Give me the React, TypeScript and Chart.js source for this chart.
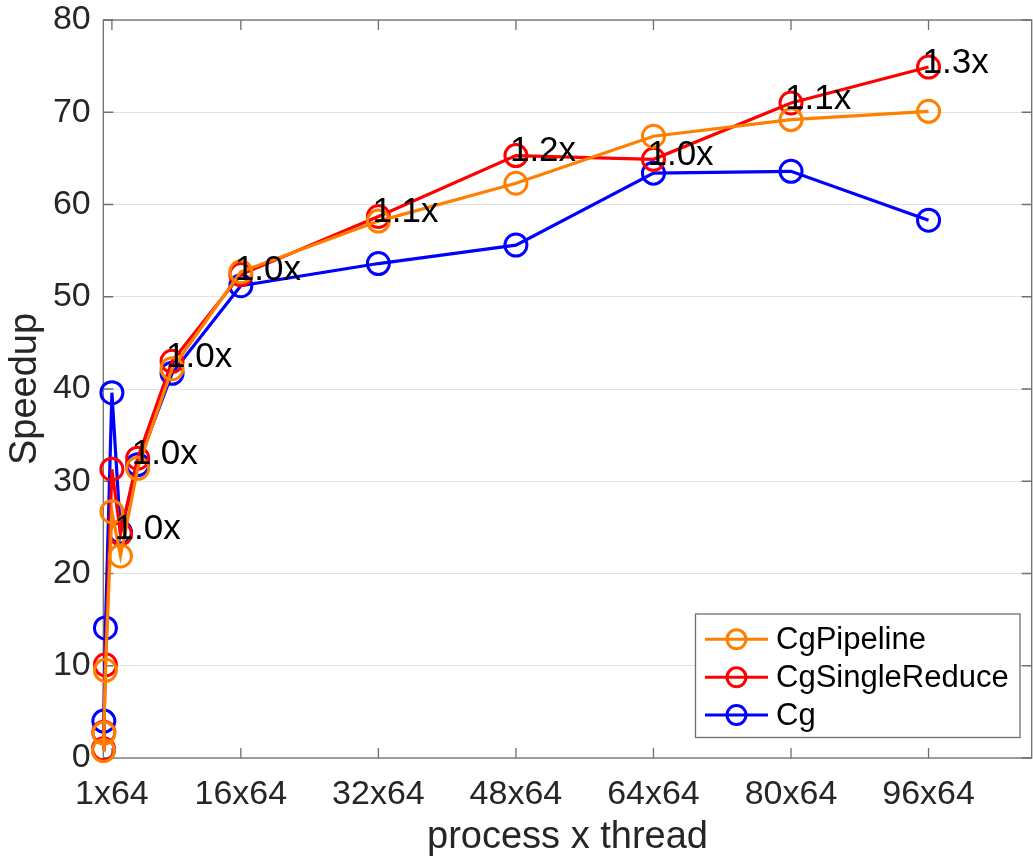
import React, { useEffect, useRef } from 'react';
import { Chart, registerables } from 'chart.js';

Chart.register(...registerables);

// ---------- data ----------
const xValues = [1 / 64, 4 / 64, 16 / 64, 1, 2, 4, 8, 16, 32, 48, 64, 80, 96];
const cgPipeline = [0.8, 2.7, 9.5, 26.7, 21.9, 31.4, 42.2, 52.7, 58.2, 62.3, 67.4, 69.2, 70.1];
const cgSingleReduce = [1.0, 2.8, 10.1, 31.3, 24.3, 32.5, 43.0, 52.4, 58.7, 65.3, 64.9, 71.0, 74.9];
const cg = [0.9, 4.0, 14.1, 39.6, 24.5, 31.8, 41.7, 51.2, 53.6, 55.6, 63.4, 63.6, 58.3];
const ratioLabels = ['', '', '', '', '1.0x', '1.0x', '1.0x', '1.0x', '1.1x', '1.2x', '1.0x', '1.1x', '1.3x'];
const seriesNames = ['CgPipeline', 'CgSingleReduce', 'Cg'];
const seriesColors = ['#FF8000', '#FF0000', '#0000FF'];
const xTickValues = [1, 16, 32, 48, 64, 80, 96];
const xTickLabels = ['1x64', '16x64', '32x64', '48x64', '64x64', '80x64', '96x64'];
const xTitle = 'process x thread';
const yTitle = 'Speedup';

const FONT = '"Liberation Sans", Arial, Helvetica, sans-serif';
const TEXT = '#262626';

const framePlugin = {
  id: 'frame',
  beforeDatasetsDraw(chart: any) {
    const { ctx, chartArea: a, scales } = chart;
    ctx.save();
    ctx.strokeStyle = '#6f6f6f';
    ctx.lineWidth = 1.3;
    ctx.strokeRect(a.left, a.top, a.right - a.left, a.bottom - a.top);
    const tl = 10;
    ctx.beginPath();
    for (const v of xTickValues) {
      const px = scales.x.getPixelForValue(v);
      ctx.moveTo(px, a.bottom);
      ctx.lineTo(px, a.bottom - tl);
      ctx.moveTo(px, a.top);
      ctx.lineTo(px, a.top + tl);
    }
    for (const t of scales.y.ticks) {
      const py = scales.y.getPixelForValue(t.value);
      ctx.moveTo(a.left, py);
      ctx.lineTo(a.left + tl, py);
      ctx.moveTo(a.right, py);
      ctx.lineTo(a.right - tl, py);
    }
    ctx.stroke();
    ctx.restore();
  },
};

const annotationPlugin = {
  id: 'ratioText',
  afterDatasetsDraw(chart: any) {
    const { ctx } = chart;
    const meta = chart.getDatasetMeta(1);
    ctx.save();
    ctx.font = `35px ${FONT}`;
    ctx.fillStyle = '#000';
    ctx.textAlign = 'left';
    ctx.textBaseline = 'middle';
    meta.data.forEach((pt: any, i: number) => {
      const s = ratioLabels[i];
      if (s) ctx.fillText(s, pt.x - 6, pt.y - 4);
    });
    ctx.restore();
  },
};

const legendPlugin = {
  id: 'boxLegend',
  afterDraw(chart: any) {
    const { ctx } = chart;
    const box = { left: 695.5, top: 614, width: 324.5, height: 123.5 };
    const rows = [639.3, 677.3, 715];
    ctx.save();
    ctx.fillStyle = '#fff';
    ctx.fillRect(box.left, box.top, box.width, box.height);
    ctx.strokeStyle = '#6f6f6f';
    ctx.lineWidth = 1.3;
    ctx.strokeRect(box.left, box.top, box.width, box.height);
    ctx.font = `31px ${FONT}`;
    ctx.textAlign = 'left';
    ctx.textBaseline = 'middle';
    chart.data.datasets.forEach((ds: any, i: number) => {
      const y = rows[i];
      ctx.strokeStyle = ds.borderColor;
      ctx.lineWidth = 3;
      ctx.beginPath();
      ctx.moveTo(705, y);
      ctx.lineTo(768, y);
      ctx.stroke();
      ctx.beginPath();
      ctx.arc(736.5, y, 9.5, 0, Math.PI * 2);
      ctx.stroke();
      ctx.fillStyle = '#000';
      ctx.fillText(ds.label, 776, y + 1);
    });
    ctx.restore();
  },
};

const zeroPad = (scale: any) => {
  scale.paddingTop = 0;
  scale.paddingBottom = 0;
  scale.paddingLeft = 0;
  scale.paddingRight = 0;
};

export default function App() {
  const ref = useRef<HTMLCanvasElement | null>(null);

  useEffect(() => {
    document.body.style.margin = '0';
    const canvas = ref.current;
    if (!canvas) return;
    const series = [cgPipeline, cgSingleReduce, cg];
    const datasets = series.map((vals, i) => ({
      label: seriesNames[i],
      data: xValues.map((x, j) => ({ x, y: vals[j] })),
      borderColor: seriesColors[i],
      backgroundColor: 'rgba(0,0,0,0)',
      pointBackgroundColor: 'rgba(0,0,0,0)',
      pointBorderColor: seriesColors[i],
      borderWidth: 3.2,
      pointRadius: 11,
      pointBorderWidth: 3,
      pointStyle: 'circle',
      tension: 0,
      fill: false,
      clip: false as any,
    }));

    const chart = new Chart(canvas, {
      type: 'line',
      data: { datasets },
      options: {
        responsive: false,
        animation: false,
        events: [],
        layout: { autoPadding: false, padding: { top: 20, right: 1.3, left: 0, bottom: 0 } },
        plugins: {
          legend: { display: false },
          tooltip: { enabled: false },
        },
        scales: {
          x: {
            type: 'linear',
            min: 0,
            max: 108,
            afterBuildTicks: (scale: any) => {
              scale.ticks = xTickValues.map((v) => ({ value: v }));
            },
            afterFit: (scale: any) => {
              scale.height = 105;
              zeroPad(scale);
            },
            ticks: {
              autoSkip: false,
              maxRotation: 0,
              minRotation: 0,
              padding: 16,
              color: TEXT,
              font: { family: FONT, size: 34 },
              callback: (_v: any, i: number) => xTickLabels[i],
            },
            grid: { display: false, drawTicks: false },
            border: { display: false },
            title: {
              display: true,
              text: xTitle,
              color: TEXT,
              font: { family: FONT, size: 38 },
              padding: { top: 0, bottom: 3 },
            },
          },
          y: {
            type: 'linear',
            min: 0,
            max: 80,
            afterFit: (scale: any) => {
              scale.width = 103.3;
              zeroPad(scale);
            },
            ticks: {
              stepSize: 10,
              padding: 12.6,
              color: TEXT,
              font: { family: FONT, size: 34 },
            },
            grid: { color: '#e2e2e2', lineWidth: 1, drawTicks: false },
            border: { display: false },
            title: {
              display: true,
              text: yTitle,
              color: TEXT,
              font: { family: FONT, size: 38 },
              padding: { top: 3, bottom: 0 },
            },
          },
        },
      },
      plugins: [framePlugin, annotationPlugin, legendPlugin],
    });
    return () => chart.destroy();
  }, []);

  return (
    <div style={{ width: 1033, height: 863, background: '#fff' }}>
      <canvas ref={ref} width={1033} height={863} style={{ display: 'block' }} />
    </div>
  );
}
